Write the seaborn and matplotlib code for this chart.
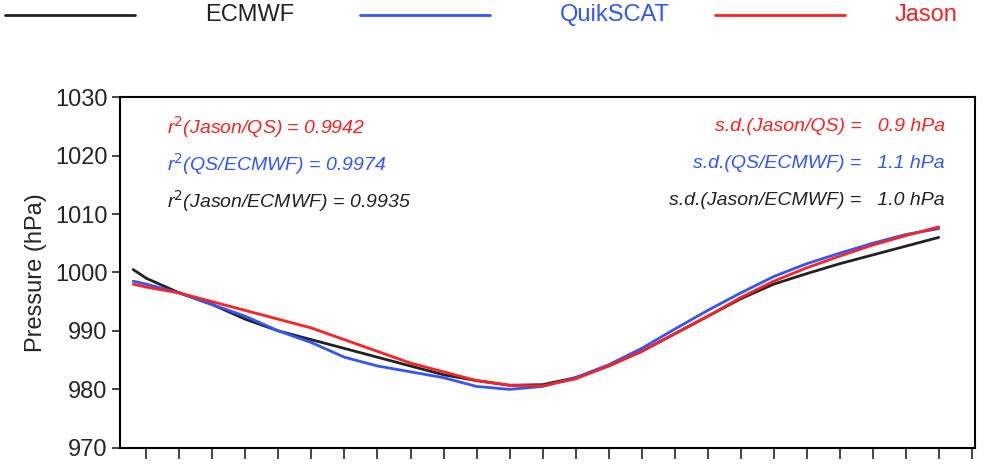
import matplotlib
matplotlib.use("Agg")
import matplotlib.pyplot as plt
import seaborn as sns
import pandas as pd
import numpy as np

x = [-0.4] + list(range(0, 25))
ecmwf = [1000.5, 999, 996.5, 994.5, 992, 990, 988.5, 987, 985.5, 984, 982.5, 981.5, 980.7, 980.8, 982, 984, 986.5, 989.5, 992.5, 995.5, 998, 999.8, 1001.5, 1003, 1004.5, 1006]
quikscat = [998.5, 998, 996.5, 994.5, 992.5, 990, 988, 985.5, 984, 983, 982, 980.5, 980, 980.5, 982, 984.2, 987, 990.3, 993.5, 996.5, 999.3, 1001.5, 1003.3, 1005, 1006.5, 1007.5]
jason = [998, 997.5, 996.5, 995, 993.5, 992, 990.5, 988.5, 986.5, 984.5, 983, 981.5, 980.7, 980.6, 981.8, 984, 986.5, 989.5, 992.5, 995.7, 998.5, 1000.8, 1002.8, 1004.7, 1006.3, 1007.8]
names = ["ECMWF", "QuikSCAT", "Jason"]
colors = ["#222222", "#3355ff", "#ff2222"]
yticks = [970, 980, 990, 1000, 1010, 1020, 1030]

df = pd.concat([pd.DataFrame({"x": x, "p": v, "s": n}) for v, n in zip([ecmwf, quikscat, jason], names)])

sns.set_style("white")
plt.rcParams['font.family'] = ['Liberation Sans', 'DejaVu Sans']
fig = plt.figure(figsize=(10, 4.65), dpi=100)
ax = fig.add_axes([0.12, 0.037, 0.855, 0.754])
sns.lineplot(data=df, x="x", y="p", hue="s", palette=colors, ax=ax, legend=False, linewidth=2, sort=False)
ax.set_xlim(-0.8, 25.1)
ax.set_ylim(970, 1030)
ax.set_xticks(range(0, 26))
ax.set_xticklabels([])
ax.set_yticks(yticks)
ax.tick_params(axis='y', labelsize=17, direction='out', length=6, width=1.2, left=True, pad=3)
ax.tick_params(axis='x', direction='out', length=8, width=1.2, bottom=True)
ax.set_xlabel("")
ax.set_ylabel("Pressure (hPa)", fontsize=17, labelpad=6)
for s in ax.spines.values():
    s.set_linewidth(1.5); s.set_color("black")

left = [("r$^2$(Jason/QS) = 0.9942", colors[2]), ("r$^2$(QS/ECMWF) = 0.9974", colors[1]), ("r$^2$(Jason/ECMWF) = 0.9935", colors[0])]
right = [("s.d.(Jason/QS) =   0.9 hPa", colors[2]), ("s.d.(QS/ECMWF) =   1.1 hPa", colors[1]), ("s.d.(Jason/ECMWF) =   1.0 hPa", colors[0])]
for i, (t, c) in enumerate(left):
    ax.text(0.055, 0.915 - i * 0.105, t, color=c, style='italic', fontsize=14, transform=ax.transAxes, va='center')
for i, (t, c) in enumerate(right):
    ax.text(0.965, 0.915 - i * 0.105, t, color=c, style='italic', fontsize=14, transform=ax.transAxes, va='center', ha='right')

for i, (n, c) in enumerate(zip(names, colors)):
    x0 = 0.005 + i * 0.355
    fig.add_artist(plt.Line2D([x0, x0 + 0.13], [0.968, 0.968], color=c, lw=2))
    fig.text(x0 + 0.2 if i < 2 else x0 + 0.18, 0.968, n, color=c, fontsize=17, va='center', ha='left')

fig.savefig("out.png", dpi=100)
